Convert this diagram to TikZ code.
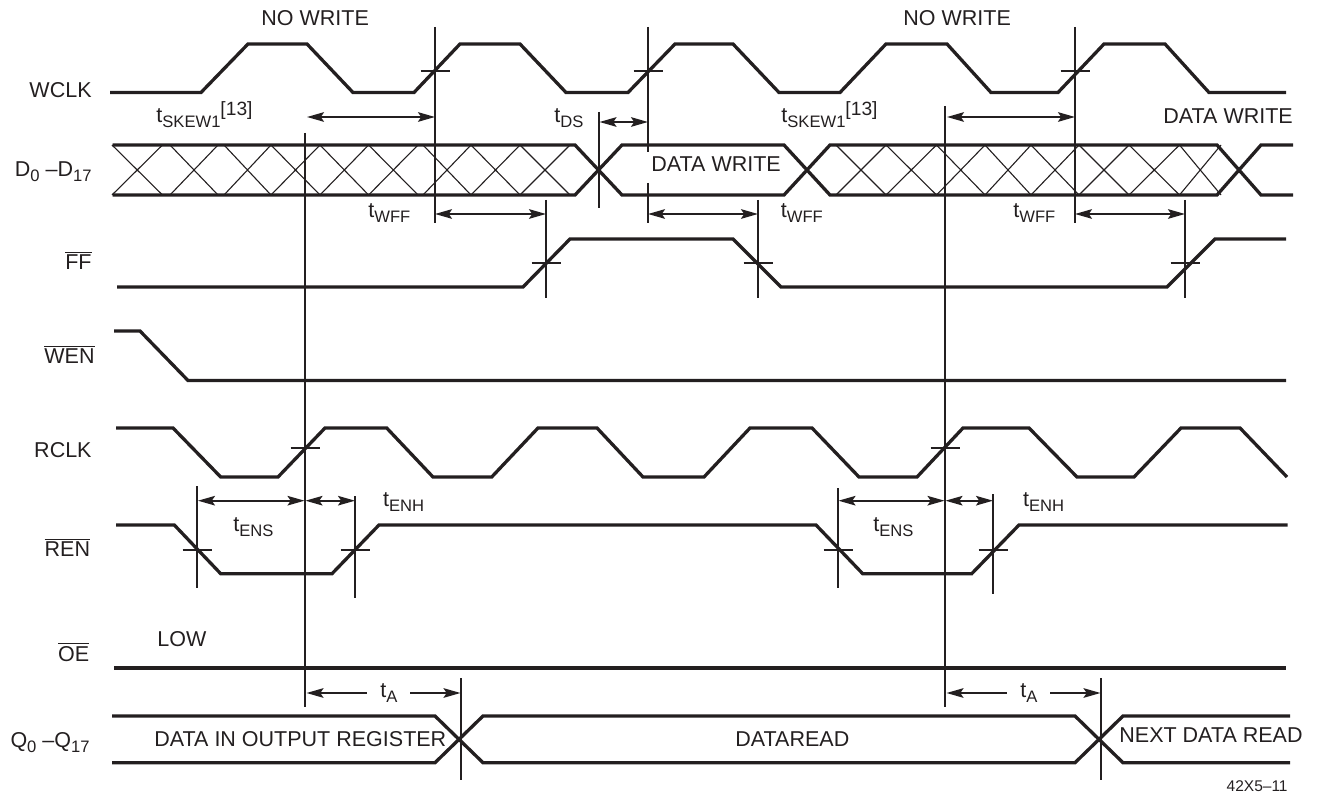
\documentclass[tikz,border=0pt]{standalone}
\usepackage{fontspec}
\setmainfont{Liberation Sans}
\usetikzlibrary{arrows.meta}
\definecolor{ink}{HTML}{231F20}
\newcommand{\subs}[1]{\raisebox{-2.5pt}{\fontsize{8.3pt}{9pt}\selectfont #1}}
\newcommand{\sups}[1]{\raisebox{3.6pt}{\fontsize{9.6pt}{10pt}\selectfont #1}}
\newcommand{\ovl}[1]{$\overline{\mbox{#1}}$}
\tikzset{
  sig/.style={draw=ink,line width=1.65pt,line join=miter},
  guide/.style={draw=ink,line width=.95pt},
  hatchline/.style={draw=ink,line width=.55pt},
  dimline/.style={draw=ink,line width=.9pt,{Stealth[length=8.5pt,width=4.8pt,inset=1.6pt]}-{Stealth[length=8.5pt,width=4.8pt,inset=1.6pt]}},
  halfdim/.style={draw=ink,line width=.9pt,-{Stealth[length=8.5pt,width=4.8pt,inset=1.6pt]}},
  lab/.style={text=ink,inner sep=0pt,font=\fontsize{10.75pt}{12pt}\selectfont},
  sname/.style={lab,anchor=base east},
  txt/.style={lab,anchor=base west},
}
% guide line with a crossing tick:  name, x, y-top, y-bottom, y-tick
\newcommand{\vguide}[5]{%
  \coordinate (#1t) at (#2,#3);\coordinate (#1b) at (#2,#4);
  \draw[guide] (#1t) -- (#1b);
  \coordinate (#1l) at (#2-14.5,#5);\coordinate (#1r) at (#2+14.5,#5);
  \draw[guide] (#1l) -- (#1r);}
\newcommand{\vplain}[4]{%
  \coordinate (#1t) at (#2,#3);\coordinate (#1b) at (#2,#4);
  \draw[guide] (#1t) -- (#1b);}
\newcommand{\dimarrow}[4]{%
  \coordinate (#1a) at (#2,#4);\coordinate (#1b) at (#3,#4);
  \draw[dimline] (#1a) -- (#1b);}
\begin{document}
\begin{tikzpicture}[x=.5pt,y=-.5pt]
\useasboundingbox (0,0) rectangle (1317,796);
% ---- signals
\draw[sig] (110,92.5)--(201,92.5)--(248,44)--(307,44)--(353,92.5)--(414,92.5)--(460,44)--(520,44)--(566,92.5)--(628,92.5)--(675,44)--(733,44)--(779,92.5)--(840,92.5)--(886,44)--(947,44)--(991,92.5)--(1058,92.5)--(1104,44)--(1165,44)--(1209,92.5)--(1286,92.5);
\draw[sig] (112.5,145)--(575,145)--(622,195)--(784,195)--(830,145)--(1217,145)--(1261,195)--(1293,195);
\draw[sig] (112.5,195)--(575,195)--(622,145)--(784,145)--(830,195)--(1217,195)--(1261,145)--(1293,145);
\foreach \a/\b in {112/162.5,170/218,224/271,271/320,320/368.6,368.6/418,423/471,471/520,520/570,836/886,886/936.5,936.5/985,985/1031,1031/1079,1079/1129,1129/1179.5,1179.5/1221}
  \draw[hatchline] (\a,145)--(\b,195) (\a,195)--(\b,145);
\draw[sig] (117,287)--(523,287)--(570,239)--(733,239)--(781,287)--(1167,287)--(1215,239)--(1286,239);
\draw[sig] (114,331)--(140,331)--(188,380.5)--(1286,380.5);
\draw[sig] (116,428)--(173,428)--(220.7,477)--(278,477)--(325,428)--(386.7,428)--(433,477)--(491.7,477)--(538,428)--(597,428)--(643,477)--(704,477)--(750,428)--(812,428)--(859,477)--(917,477)--(963,428)--(1029,428)--(1077,477)--(1134,477)--(1181,428)--(1240,428)--(1287,477);
\draw[sig] (116,525)--(174.3,525)--(220.7,573.7)--(332,573.7)--(379,525)--(816,525)--(862.7,573.7)--(971.7,573.7)--(1019,525)--(1287.7,525);
\draw[sig] (114,668)--(1286,668);
\draw[sig] (112,716)--(435,716)--(483,762.7)--(1075,762.7)--(1123,716)--(1290,716);
\draw[sig] (112,762.7)--(435,762.7)--(483,716)--(1075,716)--(1123,762.7)--(1290,762.7);
% ---- guides
\vguide{gA}{435}{27}{223}{71}
\vguide{gB}{648}{27}{152}{71}
\vplain{gBb}{648}{183}{223}
\vguide{gC}{1075}{27}{223}{71}
\vguide{gD}{546}{200}{298}{263}
\vguide{gE}{758}{200}{298}{263}
\vguide{gF}{1185}{200}{298}{263}
\vplain{gG}{599}{112}{208}
\vguide{gH}{305}{133}{707}{448}
\vguide{gI}{945}{106}{707}{448}
\vguide{gJ}{197}{486}{587.7}{549.7}
\vguide{gK}{355}{496}{597.7}{549.7}
\vguide{gL}{838}{488}{588}{549.7}
\vguide{gM}{993}{494}{594}{549.7}
\vplain{gN}{461}{678}{780}
\vplain{gO}{1101}{678}{780}
% ---- dimension arrows
\dimarrow{dA}{307}{435}{117}
\dimarrow{dB}{947}{1075}{117}
\dimarrow{dC}{599.5}{648}{122}
\dimarrow{dD}{435}{546}{214}
\dimarrow{dE}{648}{758}{214}
\dimarrow{dF}{1075}{1185}{214}
\dimarrow{dG}{198}{304.5}{500.7}
\dimarrow{dH}{305.5}{355}{500.7}
\dimarrow{dI}{838.5}{944.5}{500.7}
\dimarrow{dJ}{945.5}{993}{500.7}
\coordinate (eAl) at (306.5,693);\coordinate (eAm) at (366.7,693);
\coordinate (eAn) at (410,693);\coordinate (eAr) at (460.5,693);
\draw[halfdim] (eAm) -- (eAl);\draw[halfdim] (eAn) -- (eAr);
\coordinate (eBl) at (946.5,693);\coordinate (eBm) at (1006.7,693);
\coordinate (eBn) at (1050,693);\coordinate (eBr) at (1100.5,693);
\draw[halfdim] (eBm) -- (eBl);\draw[halfdim] (eBn) -- (eBr);
% ---- signal names
\node[sname] (nW) at (92,98) {WCLK};
\node[sname] (nD) at (92,177) {D\subs{0} –D\subs{17}};
\node[sname] (nF) at (92,270) {\ovl{FF}};
\node[sname] (nE) at (95,364) {\ovl{WEN}};
\node[sname] (nR) at (92,458) {RCLK};
\node[sname] (nN) at (90.5,556.7) {\ovl{REN}};
\node[sname] (nO) at (89.5,661.7) {\ovl{OE}};
\node[sname] (nQ) at (90,747) {Q\subs{0} –Q\subs{17}};
% ---- texts
\node[txt] (t1) at (261,26) {NO WRITE};
\node[txt] (t2) at (903,26) {NO WRITE};
\node[txt] (t3) at (156,123) {t\subs{SKEW1}\sups{[13]}};
\node[txt] (t4) at (781,123) {t\subs{SKEW1}\sups{[13]}};
\node[txt] (t5) at (554,123) {t\subs{DS}};
\node[txt] (t6) at (1163,124) {DATA WRITE};
\node[txt] (t7) at (651,172) {DATA WRITE};
\node[txt] (t8) at (368,218) {t\subs{WFF}};
\node[txt] (t9) at (780.5,218) {t\subs{WFF}};
\node[txt] (t10) at (1013,218) {t\subs{WFF}};
\node[txt] (t11) at (382.7,506) {t\subs{ENH}};
\node[txt] (t12) at (1022.7,506) {t\subs{ENH}};
\node[txt] (t13) at (233,531) {t\subs{ENS}};
\node[txt] (t14) at (873,531) {t\subs{ENS}};
\node[txt] (t15) at (157,646.7) {LOW};
\node[txt] (t16) at (380,697) {t\subs{A}};
\node[txt] (t17) at (1020,697) {t\subs{A}};
\node[txt] (t18) at (154,746) {DATA IN OUTPUT REGISTER};
\node[txt] (t19) at (735,746) {DATAREAD};
\node[txt] (t20) at (1119,742.7) {NEXT DATA READ};
\node[lab,anchor=base east,font=\fontsize{7.75pt}{9pt}\selectfont] (t21) at (1288,791) {42X5–11};
\end{tikzpicture}
\end{document}
